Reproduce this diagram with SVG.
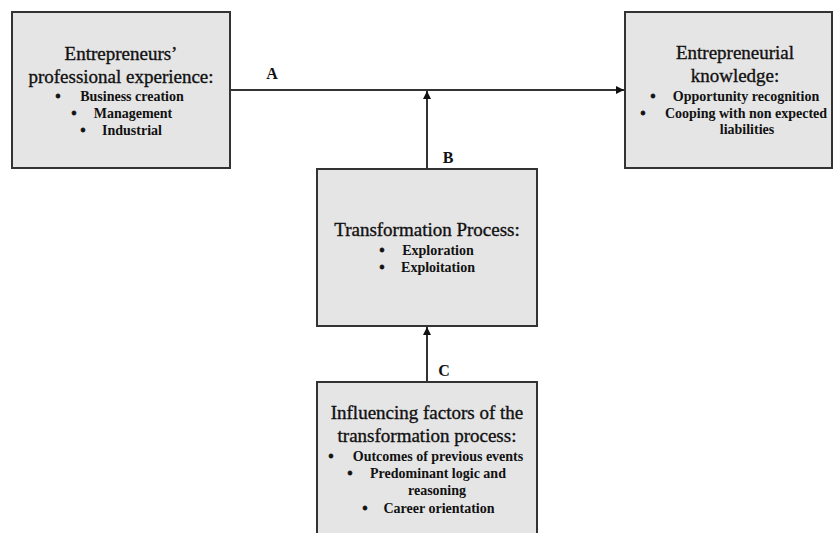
<svg xmlns="http://www.w3.org/2000/svg" width="833" height="533" viewBox="0 0 833 533">
  <style>
    .box { fill: #e5e5e5; stroke: #333333; stroke-width: 2; }
    .title { font-family: "Liberation Serif", "Times New Roman", serif; font-size: 19px; fill: #111111; stroke: #111111; stroke-width: 0.35; text-anchor: middle; }
    .item { font-family: "Liberation Serif", "Times New Roman", serif; font-size: 14px; font-weight: bold; fill: #111111; text-anchor: middle; }
    .bullet { font-family: "Liberation Serif", "Times New Roman", serif; font-size: 14px; font-weight: bold; fill: #111111; stroke: #111111; stroke-width: 0.8; text-anchor: middle; }
    .label { font-family: "Liberation Serif", "Times New Roman", serif; font-size: 16px; font-weight: bold; fill: #111111; text-anchor: middle; }
    .conn { stroke: #333333; stroke-width: 2; fill: none; }
  </style>
  <defs>
    <marker id="arrow" viewBox="0 0 10 10" refX="10" refY="5" markerWidth="4" markerHeight="4" orient="auto">
      <path d="M0,0 L10,5 L0,10 z" fill="#111111"/>
    </marker>
  </defs>

  <rect width="833" height="533" fill="#ffffff"/>

  <g id="connectors">
    <line class="conn" x1="231" y1="90" x2="624" y2="90" marker-end="url(#arrow)"/>
    <line class="conn" x1="427" y1="169" x2="427" y2="91" marker-end="url(#arrow)"/>
    <line class="conn" x1="427" y1="382" x2="427" y2="327" marker-end="url(#arrow)"/>
    <text class="label" x="272" y="79">A</text>
    <text class="label" x="448" y="163">B</text>
    <text class="label" x="444" y="376">C</text>
  </g>

  <g id="experience">
    <rect class="box" x="12" y="12" width="218" height="156"/>
    <text class="title" x="121" y="60">Entrepreneurs’</text>
    <text class="title" x="121" y="83">professional experience:</text>
    <text class="bullet" x="58" y="101">•</text>
    <text class="item" x="132" y="101">Business creation</text>
    <text class="bullet" x="74" y="118">•</text>
    <text class="item" x="133" y="118">Management</text>
    <text class="bullet" x="83" y="135">•</text>
    <text class="item" x="132" y="135">Industrial</text>
  </g>

  <g id="knowledge">
    <rect class="box" x="625" y="12" width="207" height="156"/>
    <text class="title" x="735" y="59">Entrepreneurial</text>
    <text class="title" x="735" y="82">knowledge:</text>
    <text class="bullet" x="653" y="101">•</text>
    <text class="item" x="746" y="101">Opportunity recognition</text>
    <text class="bullet" x="643" y="118">•</text>
    <text class="item" x="746" y="118">Cooping with non expected</text>
    <text class="item" x="747" y="134">liabilities</text>
  </g>

  <g id="transformation">
    <rect class="box" x="317" y="169" width="220" height="157"/>
    <text class="title" x="427" y="236">Transformation Process:</text>
    <text class="bullet" x="382" y="255">•</text>
    <text class="item" x="438" y="255">Exploration</text>
    <text class="bullet" x="382" y="272">•</text>
    <text class="item" x="438" y="272">Exploitation</text>
  </g>

  <g id="factors">
    <rect class="box" x="317" y="382" width="220" height="160"/>
    <text class="title" x="427" y="419">Influencing factors of the</text>
    <text class="title" x="427" y="442">transformation process:</text>
    <text class="bullet" x="331" y="461">•</text>
    <text class="item" x="438" y="461">Outcomes of previous events</text>
    <text class="bullet" x="350" y="478">•</text>
    <text class="item" x="438" y="478">Predominant logic and</text>
    <text class="item" x="437" y="495">reasoning</text>
    <text class="bullet" x="365" y="513">•</text>
    <text class="item" x="439" y="513">Career orientation</text>
  </g>
</svg>
